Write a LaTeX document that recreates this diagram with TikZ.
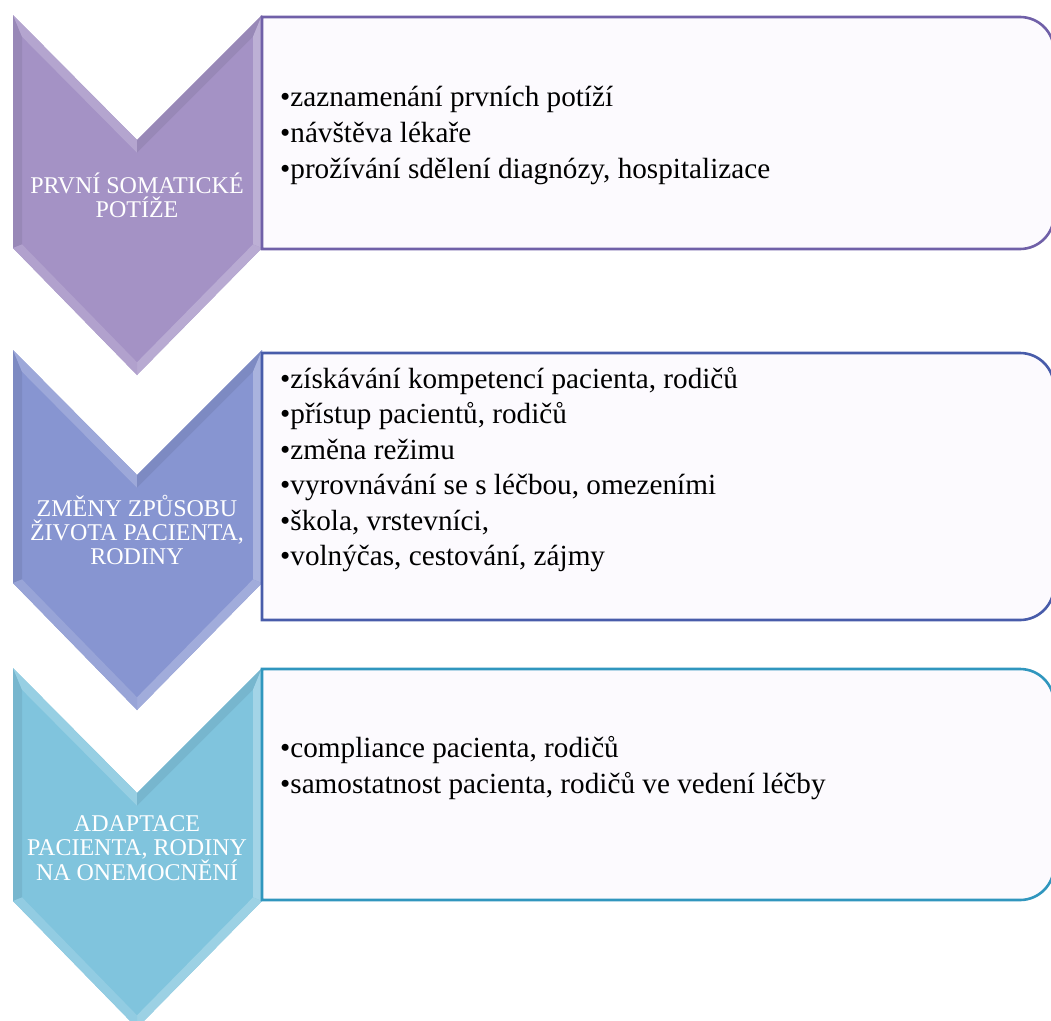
\documentclass[tikz,border=0pt]{standalone}
\usepackage{fontspec}
\setmainfont{Liberation Serif}
\newfontfamily\tnr{Liberation Serif}
\definecolor{pA}{RGB}{164,146,197}
\definecolor{pB}{RGB}{135,149,209}
\definecolor{pC}{RGB}{128,196,221}
\definecolor{bA}{RGB}{112,96,168}
\definecolor{bB}{RGB}{72,92,170}
\definecolor{bC}{RGB}{48,150,190}
\definecolor{boxfill}{RGB}{252,250,254}
\newcommand\chevdraw[2]{%
  \fill[#2] (13,-#1) -- (137,-#1-125) -- (262,-#1) -- (262,-#1-233) -- (137,-#1-360) -- (13,-#1-233) -- cycle;
  \fill[#2!93!black] (13,-#1) -- (13,-#1-233) -- (22,-#1-229.4) -- (22,-#1-21.7) -- cycle;
  \fill[#2!82!white] (13,-#1) -- (137,-#1-125) -- (137,-#1-137.7) -- (22,-#1-21.7) -- cycle;
  \fill[#2!93!black] (137,-#1-125) -- (262,-#1) -- (253,-#1-21.7) -- (137,-#1-137.7) -- cycle;
  \fill[#2!72!white] (262,-#1) -- (262,-#1-233) -- (253,-#1-229.4) -- (253,-#1-21.7) -- cycle;
  \fill[#2!78!white] (262,-#1-233) -- (137,-#1-360) -- (137,-#1-347.3) -- (253,-#1-229.4) -- cycle;
  \fill[#2!86!white] (137,-#1-360) -- (13,-#1-233) -- (22,-#1-229.4) -- (137,-#1-347.3) -- cycle;
}
\newcommand\boxdraw[3]{%
  \draw[line width=2.6pt, draw=#3, fill=boxfill] (262,-#1) -- (1020,-#1)
    arc[start angle=90,end angle=0,radius=34] -- (1054,-#2+34)
    arc[start angle=0,end angle=-90,radius=34] -- (262,-#2) -- cycle;
}
\tikzset{
  itemtext/.style={font=\tnr\fontsize{29.2}{36}\selectfont, align=left, inner sep=0pt, anchor=base west},
  chevtext/.style={font=\tnr\fontsize{24}{24}\selectfont, text=white, align=center, inner sep=0pt}
}
\begin{document}
\begin{tikzpicture}[x=1pt,y=1pt]
\useasboundingbox (0,0) rectangle (1051,-1020);
\fill[white] (0,0) rectangle (1051,-1020);
\chevdraw{15}{pA}
\chevdraw{350}{pB}
\chevdraw{668}{pC}
\boxdraw{17}{249}{bA}
\boxdraw{353}{620}{bB}
\boxdraw{669}{900}{bC}
\node[chevtext] (c1) at (137,-195) {PRVNÍ SOMATICKÉ\\POTÍŽE};
\node[chevtext] (c2) at (137,-530) {ZMĚNY ZPŮSOBU\\ŽIVOTA PACIENTA,\\RODINY};
\node[chevtext] (c3) at (137,-848) {ADAPTACE\\PACIENTA, RODINY\\NA ONEMOCNĚNÍ};
\node[itemtext] (t1) at (280,-178) {•zaznamenání prvních potíží\\•návštěva lékaře\\•prožívání sdělení diagnózy, hospitalizace};
\node[itemtext, font=\tnr\fontsize{29.2}{35.5}\selectfont] (t2) at (280,-565.5) {•získávání kompetencí pacienta, rodičů\\•přístup pacientů, rodičů\\•změna režimu\\•vyrovnávání se s léčbou, omezeními\\•škola, vrstevníci,\\•volnýčas, cestování, zájmy};
\node[itemtext] (t3) at (280,-793) {•compliance pacienta, rodičů\\•samostatnost pacienta, rodičů ve vedení léčby};
\end{tikzpicture}
\end{document}
